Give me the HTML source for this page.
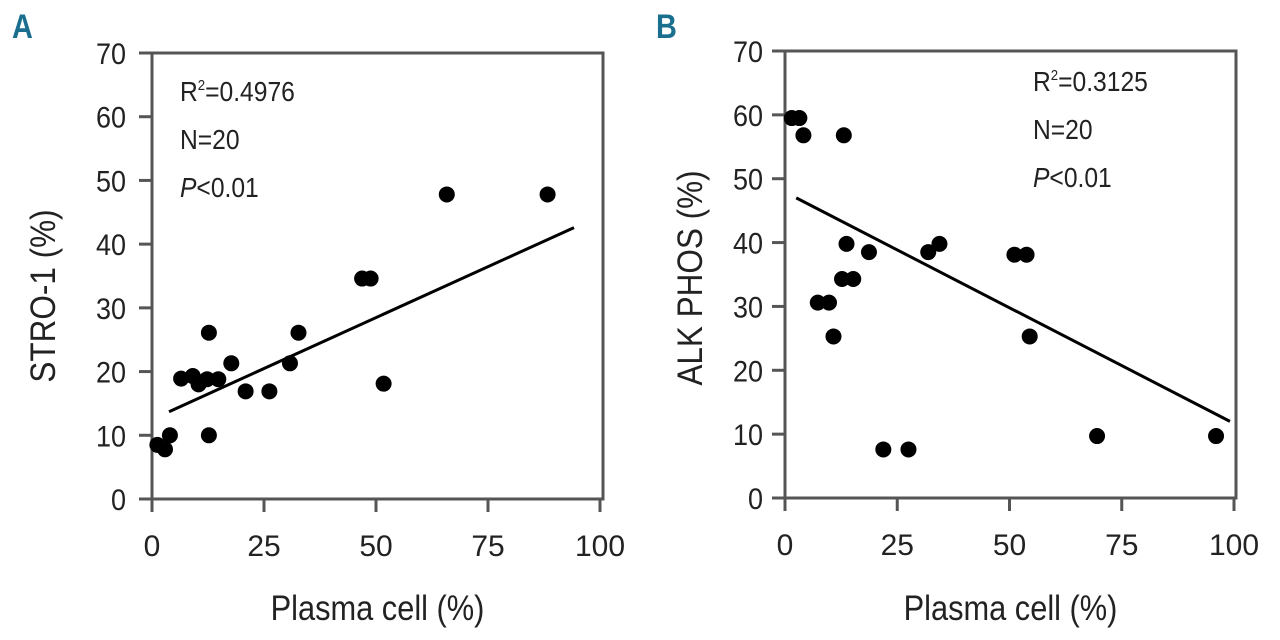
<!DOCTYPE html>
<html><head><meta charset="utf-8"><style>
html,body{margin:0;padding:0;background:#fff;width:1280px;height:640px;overflow:hidden}
svg text{font-family:"Liberation Sans",sans-serif;fill:#222}
</style></head><body>
<svg id="chart" width="1280" height="640" xmlns="http://www.w3.org/2000/svg"></svg>
<script>
const xTicks=[0,25,50,75,100];
const yTicks=[0,10,20,30,40,50,60,70];
const aX=[1.2,2.9,4,12.7,6.5,9.1,10.4,12.3,14.8,12.7,17.7,20.9,26.2,30.8,32.7,46.9,48.8,51.7,65.8,88.3];
const aY=[8.5,7.8,10,10,18.9,19.3,18,18.8,18.8,26.1,21.3,16.9,16.9,21.3,26.1,34.6,34.6,18.1,47.8,47.8];
const aFitX=[3.8,94.2];
const aFitY=[13.7,42.6];
const bX=[1.5,3.2,4.1,13.1,7.3,9.8,10.8,12.7,15.2,13.7,18.7,21.9,27.5,31.9,34.4,51.1,53.8,54.5,69.5,96];
const bY=[59.5,59.5,56.8,56.8,30.6,30.6,25.3,34.3,34.3,39.8,38.5,7.6,7.6,38.5,39.8,38.1,38.1,25.3,9.7,9.7];
const bFitX=[2.5,99.1];
const bFitY=[47,12];
const aStats=["R²=0.4976","N=20","P<0.01"];
const bStats=["R²=0.3125","N=20","P<0.01"];

const NS="http://www.w3.org/2000/svg";
const svg=document.getElementById('chart');
function mk(tag,attrs,parent,text){const e=document.createElementNS(NS,tag);for(const k in attrs)e.setAttribute(k,attrs[k]);if(text!==undefined)e.textContent=text;(parent||svg).appendChild(e);return e;}

function panel(cfg){
  const g=mk('g',{});
  
  
  const sx=v=>cfg.x0+(v/100)*(cfg.x1-cfg.x0);
  const sy=v=>cfg.y0-(v/70)*(cfg.y0-cfg.y1);
  const frame=mk('rect',{x:cfg.x0,y:cfg.y1,width:cfg.right-cfg.x0,height:cfg.y0-cfg.y1,fill:'none',stroke:'#555','stroke-width':3},g);
  
  
  yTicks.forEach(t=>{
    const ln=mk('line',{x1:cfg.x0-13,x2:cfg.x0,y1:sy(t),y2:sy(t),stroke:'#555','stroke-width':3},g);
    
    
    const tx=mk('text',{x:0,y:0,transform:`translate(${cfg.ylabX},${sy(t)+11}) scale(0.9,1)`,'text-anchor':'end','font-size':30},g,String(t));
    
    
  });
  xTicks.forEach(t=>{
    const ln=mk('line',{x1:sx(t),x2:sx(t),y1:cfg.y0,y2:cfg.y0+13,stroke:'#555','stroke-width':3},g);
    
    
    const tx=mk('text',{x:sx(t),y:cfg.y0+57,'text-anchor':'middle','font-size':30},g,String(t));
    
    
  });
  const fit=mk('line',{x1:sx(cfg.fx[0]),y1:sy(cfg.fy[0]),x2:sx(cfg.fx[1]),y2:sy(cfg.fy[1]),stroke:'#000','stroke-width':3},g);
  
  
  cfg.xs.forEach((v,i)=>{
    const c=mk('circle',{cx:sx(v),cy:sy(cfg.ys[i]),r:8,fill:'#000'},g);
    
    
  });
  cfg.stats.forEach((s,i)=>{
    const t=mk('text',{x:0,y:0,transform:`translate(${cfg.sx},${cfg.sy+i*48}) scale(0.88,1)`,'font-size':28},g);
    
    
    if(s.startsWith('P')){mk('tspan',{'font-style':'italic'},t,'P');mk('tspan',{},t,s.slice(1));}
    else if(s.startsWith('R²')){mk('tspan',{},t,'R');mk('tspan',{'font-size':15,dy:-11},t,'2');mk('tspan',{dy:11},t,s.slice(2));}
    else t.textContent=s;
  });
  const xt=mk('text',{x:0,y:0,transform:`translate(${(cfg.x0+cfg.right)/2},620) scale(0.88,1)`,'text-anchor':'middle','font-size':35},g,'Plasma cell (%)');
  
  
  const yt=mk('text',{x:0,y:0,'text-anchor':'middle','font-size':35,transform:`translate(${cfg.ytX},${cfg.ytY}) rotate(-90) scale(0.9,1)`},g,cfg.ytitle);
  
  
  const L=mk('text',{x:0,y:0,transform:`translate(${cfg.letterX},38) scale(0.85,1)`,'font-size':34,'font-weight':'bold',style:'fill:#1a6f8f'},g,cfg.letter);
  
  
}
panel({name:'panel-a',x0:152,x1:600,right:603,y0:499,y1:53,ylabX:126,xs:aX,ys:aY,fx:aFitX,fy:aFitY,stats:aStats,sx:180,sy:101,ytitle:'STRO-1 (%)',ytX:55,ytY:296,letter:'A',letterX:12});
panel({name:'panel-b',x0:785,x1:1234,right:1236,y0:498,y1:51,ylabX:763,xs:bX,ys:bY,fx:bFitX,fy:bFitY,stats:bStats,sx:1033,sy:91,ytitle:'ALK PHOS (%)',ytX:702,ytY:278,letter:'B',letterX:656});
</script>
</body></html>
